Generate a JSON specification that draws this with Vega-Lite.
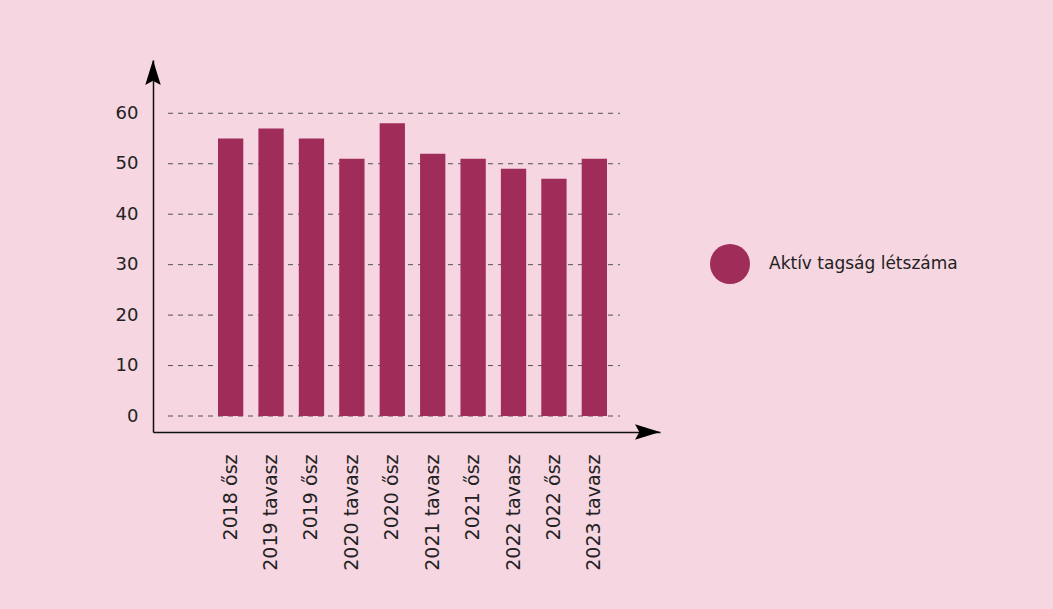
{
  "$schema": "https://vega.github.io/schema/vega-lite/v6.json",
  "width": 507,
  "height": 372,
  "autosize": {"type": "none"},
  "padding": {"left": 153, "top": 60, "right": 393, "bottom": 177},
  "background": "#f5d6e1",
  "config": {
    "view": {"stroke": null},
    "font": "DejaVu Sans",
    "axis": {"labelFont": "DejaVu Sans", "labelFontSize": 18, "labelColor": "#222222", "title": null, "grid": false, "ticks": false},
    "legend": {"labelFont": "DejaVu Sans"}
  },
  "layer": [
    {
      "layer": [
        {
          "data": {"values": [{"v": 0}, {"v": 10}, {"v": 20}, {"v": 30}, {"v": 40}, {"v": 50}, {"v": 60}]},
          "mark": {"type": "rule", "strokeDash": [5, 5], "color": "#555555", "strokeWidth": 1},
          "encoding": {
            "y": {
              "field": "v", "type": "quantitative",
              "scale": {"domain": [-3.17, 70.56], "nice": false, "zero": false},
              "axis": {"values": [0, 10, 20, 30, 40, 50, 60], "domain": true, "domainColor": "#111111", "domainWidth": 1.5, "labelPadding": 15, "title": null}
            },
            "x": {"datum": 0.0296, "type": "quantitative", "scale": {"domain": [0, 1], "nice": false, "zero": false},
              "axis": {"orient": "bottom", "domain": true, "domainColor": "#111111", "domainWidth": 1.5, "labels": false, "ticks": false, "grid": false, "title": null}},
            "x2": {"datum": 0.921}
          }
        },
        {
          "data": {"values": [{}]},
          "mark": {"type": "point", "filled": true, "opacity": 1, "color": "#000000", "size": 625, "shape": "M0,0 L0.62,2 L0,1.65 L-0.62,2 Z"},
          "encoding": {
            "x": {"datum": 0, "type": "quantitative"},
            "y": {"datum": 70.56, "type": "quantitative"}
          }
        },
        {
          "data": {"values": [{}]},
          "mark": {"type": "point", "filled": true, "opacity": 1, "color": "#000000", "size": 625, "angle": 90, "shape": "M0,0 L0.62,2 L0,1.65 L-0.62,2 Z"},
          "encoding": {
            "x": {"datum": 1, "type": "quantitative"},
            "y": {"datum": -3.17, "type": "quantitative"}
          }
        }
      ]
    },
    {
      "data": {"values": [
        {"period": "2018 ősz", "value": 55},
        {"period": "2019 tavasz", "value": 57},
        {"period": "2019 ősz", "value": 55},
        {"period": "2020 tavasz", "value": 51},
        {"period": "2020 ősz", "value": 58},
        {"period": "2021 tavasz", "value": 52},
        {"period": "2021 ősz", "value": 51},
        {"period": "2022 tavasz", "value": 49},
        {"period": "2022 ősz", "value": 47},
        {"period": "2023 tavasz", "value": 51}
      ]},
      "mark": {"type": "bar"},
      "encoding": {
        "x": {
          "field": "period", "type": "nominal", "sort": null,
          "scale": {"range": [65, 454], "paddingInner": 0.374, "paddingOuter": 0},
          "axis": {"orient": "bottom", "domain": false, "labelAngle": -90, "labelPadding": 22, "title": null, "labelFontSize": 19}
        },
        "y": {"field": "value", "type": "quantitative"},
        "color": {
          "datum": "Aktív tagság létszáma",
          "scale": {"range": ["#a02c5a"]},
          "legend": {
            "orient": "none", "legendX": 557, "legendY": 184, "title": null,
            "symbolType": "circle", "symbolSize": 1600, "symbolStrokeWidth": 0,
            "labelFontSize": 17, "labelOffset": 19, "labelColor": "#222222", "padding": 0, "labelLimit": 400
          }
        }
      }
    }
  ],
  "resolve": {"scale": {"x": "independent"}}
}
